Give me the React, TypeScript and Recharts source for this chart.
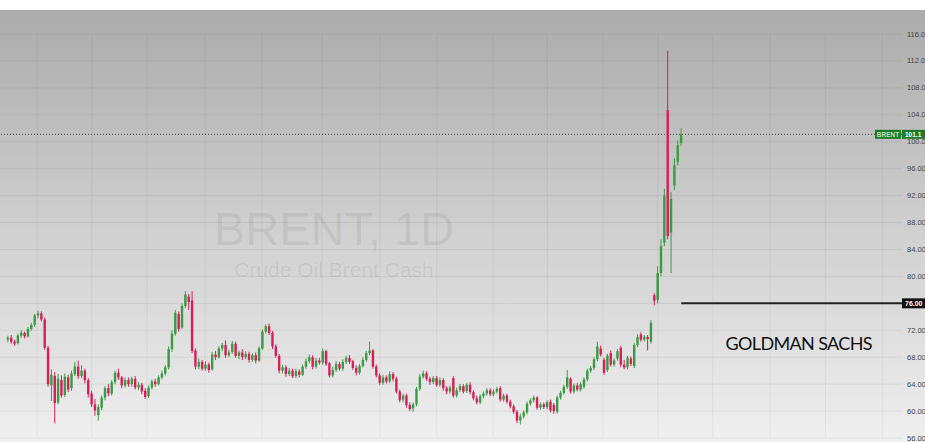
import {
  ComposedChart,
  Bar,
  XAxis,
  YAxis,
  CartesianGrid,
  ReferenceLine,
} from 'recharts'

// daily candles, left to right (values in USD/bbl)
const opens = [
  70.6, 70.9, 70.3, 70.1, 71.2, 71.6, 71.1, 72.2, 72.8, 74.2, 74.5, 73.6, 69.4, 63.8, 65.2, 61.3, 64.6, 62.4, 65.0, 63.4,
  65.5, 66.6, 65.2, 66.0, 64.6, 62.6, 61.0, 59.4, 60.5, 62.0, 63.4, 62.6, 64.3, 65.7, 65.0, 63.8, 64.6, 64.0, 64.8, 63.5,
  63.9, 63.0, 62.2, 63.5, 64.4, 64.0, 65.0, 65.6, 66.5, 69.2, 71.5, 74.4, 72.4, 75.6, 77.0, 76.4, 69.0, 66.6, 67.3, 66.3,
  66.9, 66.2, 68.4, 68.0, 69.3, 69.8, 68.3, 68.8, 70.0, 68.2, 68.7, 68.0, 68.5, 67.6, 68.3, 67.5, 69.3, 71.8, 72.6, 71.6,
  69.6, 68.2, 66.0, 66.5, 65.5, 66.0, 65.2, 65.9, 65.4, 66.6, 67.4, 68.0, 66.6, 67.5, 67.2, 68.9, 67.1, 65.3, 66.1, 67.0,
  66.3, 67.3, 67.9, 67.4, 66.4, 65.7, 66.7, 67.6, 68.6, 69.0, 66.6, 65.3, 64.2, 65.0, 64.4, 65.5, 64.8, 62.9, 61.7, 62.3,
  60.9, 60.4, 61.0, 63.3, 65.1, 65.6, 64.8, 64.3, 64.9, 63.9, 64.6, 63.4, 62.9, 64.9, 62.3, 63.1, 63.7, 63.0, 63.9, 62.8,
  61.9, 61.3, 62.2, 62.6, 63.1, 62.5, 62.9, 63.4, 61.7, 62.3, 61.4, 60.7, 59.9, 58.6, 59.2, 59.8, 61.1, 61.6, 62.0, 60.5,
  61.0, 60.6, 61.4, 60.9, 59.9, 62.0, 62.7, 63.6, 64.8, 62.9, 63.8, 63.2, 63.6, 64.7, 66.0, 66.4, 67.7, 69.3, 67.6, 66.1,
  68.6, 66.9, 67.8, 69.4, 66.9, 66.5, 67.8, 66.7, 69.8, 71.4, 70.6, 71.0, 70.3, 77.2, 76.5, 80.5, 85.0, 104.7, 86.5, 93.5,
  97.0, 99.8,
]
const highs = [
  71.2, 71.3, 70.6, 71.5, 72.0, 71.8, 72.5, 73.1, 74.4, 74.9, 74.8, 73.9, 69.7, 66.2, 65.8, 65.5, 65.3, 65.6, 65.4, 66.0,
  67.3, 67.5, 66.8, 66.3, 64.9, 63.0, 61.8, 61.0, 62.3, 63.7, 64.0, 64.6, 66.0, 66.3, 65.2, 65.0, 65.0, 65.1, 65.2, 64.3,
  64.2, 63.4, 63.8, 64.7, 64.8, 65.3, 66.0, 66.8, 69.6, 72.0, 75.0, 74.8, 76.0, 77.8, 77.4, 77.8, 69.3, 67.8, 67.6, 67.4,
  67.2, 68.8, 68.9, 69.6, 70.1, 70.5, 69.1, 70.4, 70.3, 69.0, 69.2, 68.9, 68.8, 68.6, 68.7, 69.6, 72.1, 72.9, 73.0, 71.9,
  69.9, 68.5, 66.9, 66.8, 66.4, 66.3, 66.3, 66.2, 66.9, 67.8, 68.4, 68.3, 67.9, 67.9, 69.3, 69.1, 67.3, 66.6, 67.4, 67.3,
  67.7, 68.2, 68.3, 67.6, 66.8, 67.0, 68.0, 68.9, 70.3, 69.2, 66.9, 65.6, 65.4, 65.3, 65.9, 65.8, 65.1, 63.2, 62.6, 62.6,
  61.3, 61.3, 63.6, 65.5, 66.0, 65.9, 65.1, 65.2, 65.2, 65.0, 64.9, 63.7, 63.8, 65.2, 63.5, 64.0, 64.0, 64.2, 64.3, 63.1,
  62.3, 62.5, 62.9, 63.4, 63.4, 63.2, 63.6, 63.7, 62.6, 62.6, 61.7, 61.0, 60.2, 59.6, 60.1, 61.4, 61.9, 62.3, 62.2, 61.3,
  61.3, 61.6, 61.7, 61.2, 62.3, 63.0, 63.9, 66.1, 65.0, 64.1, 64.2, 64.3, 65.0, 66.3, 66.7, 68.0, 70.3, 69.7, 67.9, 68.5,
  69.0, 67.8, 69.2, 69.7, 67.6, 68.2, 68.1, 70.1, 71.4, 71.7, 71.3, 71.3, 73.5, 77.5, 81.5, 85.5, 93.0, 113.5, 92.5, 97.5,
  100.2, 102.0,
]
const lows = [
  70.2, 70.0, 69.7, 69.9, 70.9, 70.8, 70.9, 71.9, 72.5, 73.8, 73.3, 69.1, 63.6, 61.5, 58.2, 61.0, 62.0, 62.1, 62.8, 63.0,
  65.2, 64.8, 64.9, 64.1, 62.0, 60.6, 59.3, 58.6, 60.1, 61.6, 62.2, 62.3, 64.0, 64.6, 63.4, 63.5, 63.6, 63.6, 63.2, 63.1,
  62.5, 61.8, 61.9, 63.2, 63.6, 63.8, 64.7, 65.3, 66.2, 68.8, 71.2, 71.8, 72.2, 75.3, 75.0, 68.6, 66.2, 66.2, 66.0, 66.0,
  65.7, 66.0, 67.6, 67.8, 68.9, 67.9, 68.0, 68.5, 67.9, 67.7, 67.6, 67.7, 67.2, 67.3, 67.1, 67.3, 69.1, 71.5, 71.3, 69.2,
  67.9, 65.6, 65.6, 65.1, 65.2, 64.9, 64.9, 65.0, 65.2, 66.3, 67.1, 66.2, 66.3, 66.9, 66.9, 66.7, 65.0, 65.0, 65.8, 66.0,
  66.0, 67.0, 67.0, 66.1, 65.3, 65.4, 66.5, 67.3, 68.3, 66.3, 65.0, 63.9, 63.9, 64.1, 64.2, 64.4, 62.6, 61.3, 61.3, 60.5,
  60.0, 59.9, 60.7, 63.0, 64.8, 64.5, 63.9, 64.0, 63.6, 63.6, 63.0, 62.5, 62.6, 62.0, 62.0, 62.8, 62.6, 62.7, 62.5, 61.6,
  61.0, 61.0, 61.9, 62.3, 62.2, 62.2, 62.6, 61.4, 61.4, 61.1, 60.4, 59.6, 58.2, 58.0, 58.9, 59.5, 60.8, 61.3, 60.2, 60.2,
  60.3, 60.3, 59.8, 59.6, 59.6, 61.7, 62.4, 63.3, 62.6, 62.6, 62.9, 62.9, 63.3, 64.4, 65.7, 66.1, 67.4, 68.1, 65.4, 65.8,
  66.6, 66.6, 67.5, 66.5, 66.2, 66.2, 66.7, 66.4, 69.5, 70.3, 70.3, 69.0, 70.0, 75.7, 76.0, 80.0, 84.5, 85.5, 80.5, 92.8,
  96.5, 99.4,
]
const closes = [
  70.9, 70.3, 70.0, 71.2, 71.6, 71.1, 72.2, 72.8, 74.2, 74.5, 73.6, 69.4, 64.0, 65.4, 61.2, 64.8, 62.3, 65.1, 63.2, 65.6,
  66.6, 65.2, 66.0, 64.6, 62.5, 61.0, 60.1, 60.6, 62.0, 63.4, 62.6, 64.3, 65.7, 65.0, 63.8, 64.6, 64.0, 64.8, 63.5, 63.9,
  62.9, 62.1, 63.5, 64.4, 64.0, 65.0, 65.6, 66.5, 69.2, 71.5, 74.6, 72.2, 75.6, 77.3, 76.2, 68.9, 66.6, 67.3, 66.3, 66.9,
  66.1, 68.4, 68.0, 69.3, 69.8, 68.3, 68.7, 70.0, 68.2, 68.7, 68.0, 68.5, 67.6, 68.3, 67.5, 69.3, 71.8, 72.6, 71.6, 69.6,
  68.2, 66.0, 66.5, 65.5, 66.0, 65.2, 65.9, 65.4, 66.6, 67.4, 68.0, 66.6, 67.5, 67.2, 68.9, 67.0, 65.3, 66.1, 67.0, 66.3,
  67.3, 67.9, 67.3, 66.4, 65.7, 66.7, 67.6, 68.6, 69.0, 66.6, 65.3, 64.2, 65.0, 64.4, 65.5, 64.8, 62.9, 61.6, 62.3, 60.9,
  60.3, 61.0, 63.3, 65.1, 65.6, 64.8, 64.3, 64.9, 63.9, 64.6, 63.4, 62.9, 63.5, 62.3, 63.1, 63.7, 62.9, 63.9, 62.8, 61.9,
  61.3, 62.2, 62.6, 63.1, 62.5, 62.9, 63.3, 61.7, 62.3, 61.4, 60.7, 59.9, 58.6, 59.2, 59.8, 61.1, 61.6, 62.0, 60.5, 61.0,
  60.6, 61.3, 60.1, 60.0, 62.0, 62.7, 63.6, 65.0, 62.9, 63.8, 63.2, 64.0, 64.7, 66.0, 66.4, 67.7, 69.6, 68.4, 65.7, 68.2,
  66.9, 67.5, 68.9, 66.9, 66.5, 67.9, 67.0, 69.8, 71.0, 70.6, 71.0, 70.7, 73.1, 76.4, 80.5, 84.5, 92.0, 86.0, 91.5, 96.5,
  99.5, 101.1,
]

const priceTicks = [56, 60, 64, 68, 72, 76, 80, 84, 88, 92, 96, 100, 104, 108, 112, 116]
// month separators, in candle positions
const monthLines = [8.7, 25, 41.5, 58.8, 75.8, 93.7, 111, 128, 144.8, 161, 177.6, 194, 210.4, 227.5, 244, 261]

const lastPrice = 101.1
const targetPrice = 76
const symbol = 'BRENT'

const GREEN = '#3a9b43'
const RED = '#d81d5b'

const data = closes.map((c, i) => ({
  i,
  o: opens[i],
  h: highs[i],
  l: lows[i],
  c,
  range: [lows[i], highs[i]],
}))

const W = 925
const H = 442

const Candle = (props: any) => {
  const { x, y, width, height, payload } = props
  if (!payload) return null
  const { o, h, l, c } = payload
  const top = Math.min(y, y + height)
  const hh = Math.abs(height)
  const k = h > l ? hh / (h - l) : 0
  const bt = top + (h - Math.max(o, c)) * k
  const bb = top + (h - Math.min(o, c)) * k
  const cx = x + width / 2
  const col = c >= o ? GREEN : RED
  return (
    <g>
      <line x1={cx} x2={cx} y1={top} y2={top + hh} stroke={col} strokeWidth={1} />
      <rect x={cx - 1.2} y={bt} width={2.4} height={Math.max(bb - bt, 1)} fill={col} />
    </g>
  )
}

const PriceTick = (props: any) => {
  const { x, y, payload } = props
  // the 76 level is covered by the black target tag
  if (payload.value === targetPrice) return null
  return (
    <text x={x - 3} y={y + 2.5} fontSize={7.5} fill="#444" fontFamily="Liberation Sans, Arial, sans-serif">
      {payload.value.toFixed(2)}
    </text>
  )
}

const LastPriceTag = (props: any) => {
  const vb = props.viewBox || {}
  const right = vb.x + vb.width
  const y = vb.y
  return (
    <g fontFamily="Liberation Sans, Arial, sans-serif" fontSize={6.5} fontWeight="bold">
      <rect x={right - 27} y={y - 4.5} width={26} height={9} fill="#1f7a24" />
      <text x={right - 14} y={y + 2.3} textAnchor="middle" fill="#bfe3bf">{symbol}</text>
      <rect x={right} y={y - 4.5} width={24} height={9} fill="#1f7a24" />
      <text x={right + 3} y={y + 2.3} fill="#fff">{lastPrice.toFixed(1)}</text>
    </g>
  )
}

const TargetTag = (props: any) => {
  const vb = props.viewBox || {}
  const right = vb.x + vb.width
  const y = vb.y
  return (
    <g fontFamily="Liberation Sans, Arial, sans-serif" fontSize={7} fontWeight="bold">
      <rect x={right} y={y - 5} width={24} height={10} fill="#111" />
      <text x={right + 3} y={y + 2.5} fill="#fff">{targetPrice.toFixed(2)}</text>
    </g>
  )
}

export default function App() {
  return (
    <div style={{ position: 'absolute', left: 0, top: 0, width: W, height: H, overflow: 'hidden', background: '#fff' }}>
      {/* background gradient */}
      <div
        style={{
          position: 'absolute',
          left: 0,
          top: 10,
          width: W,
          height: H - 10,
          background: 'linear-gradient(to bottom, #ababab 0%, #cfcfcf 50%, #efefef 100%)',
        }}
      />
      {/* watermark */}
      <svg width={W} height={H} style={{ position: 'absolute', left: 0, top: 0 }}>
        <text
          x={334}
          y={245}
          textAnchor="middle"
          fontSize={47}
          fontFamily="Liberation Sans, Arial, sans-serif"
          fill="#000"
          fillOpacity={0.07}
        >
          BRENT, 1D
        </text>
        <text
          x={334}
          y={277}
          textAnchor="middle"
          fontSize={21}
          fontFamily="Liberation Sans, Arial, sans-serif"
          fill="#000"
          fillOpacity={0.08}
        >
          Crude Oil Brent Cash
        </text>
      </svg>
      <div style={{ position: 'absolute', left: 0, top: 0 }}>
        <ComposedChart width={W} height={H} data={data} margin={{ top: 34, right: 0, bottom: 4, left: 0 }}>
          <CartesianGrid vertical={false} stroke="#000" strokeOpacity={0.06} />
          {monthLines.map((m) => (
            <ReferenceLine key={m} x={m} stroke="#000" strokeOpacity={0.05} />
          ))}
          <XAxis type="number" dataKey="i" domain={[-2.4, 266.9]} hide allowDataOverflow />
          <YAxis
            orientation="right"
            domain={[56, 116]}
            ticks={priceTicks}
            interval={0}
            width={23}
            axisLine={false}
            tickLine={false}
            tick={<PriceTick />}
            allowDataOverflow
          />
          <ReferenceLine
            y={lastPrice}
            stroke="#444"
            strokeDasharray="1 2"
            label={<LastPriceTag />}
          />
          <ReferenceLine
            segment={[
              { x: 201, y: targetPrice },
              { x: 266.9, y: targetPrice },
            ]}
            stroke="#222"
            strokeWidth={2}
          />
          <ReferenceLine y={targetPrice} stroke="none" label={<TargetTag />} />
          <Bar dataKey="range" barSize={3} shape={<Candle />} isAnimationActive={false} />
        </ComposedChart>
      </div>
      <svg width={W} height={H} style={{ position: 'absolute', left: 0, top: 0, pointerEvents: 'none' }}>
        <text x={799} y={350} textAnchor="middle" fontSize={18} fontFamily="Lato, sans-serif" fill="#111" textLength={147}>
          GOLDMAN SACHS
        </text>
      </svg>
    </div>
  )
}
